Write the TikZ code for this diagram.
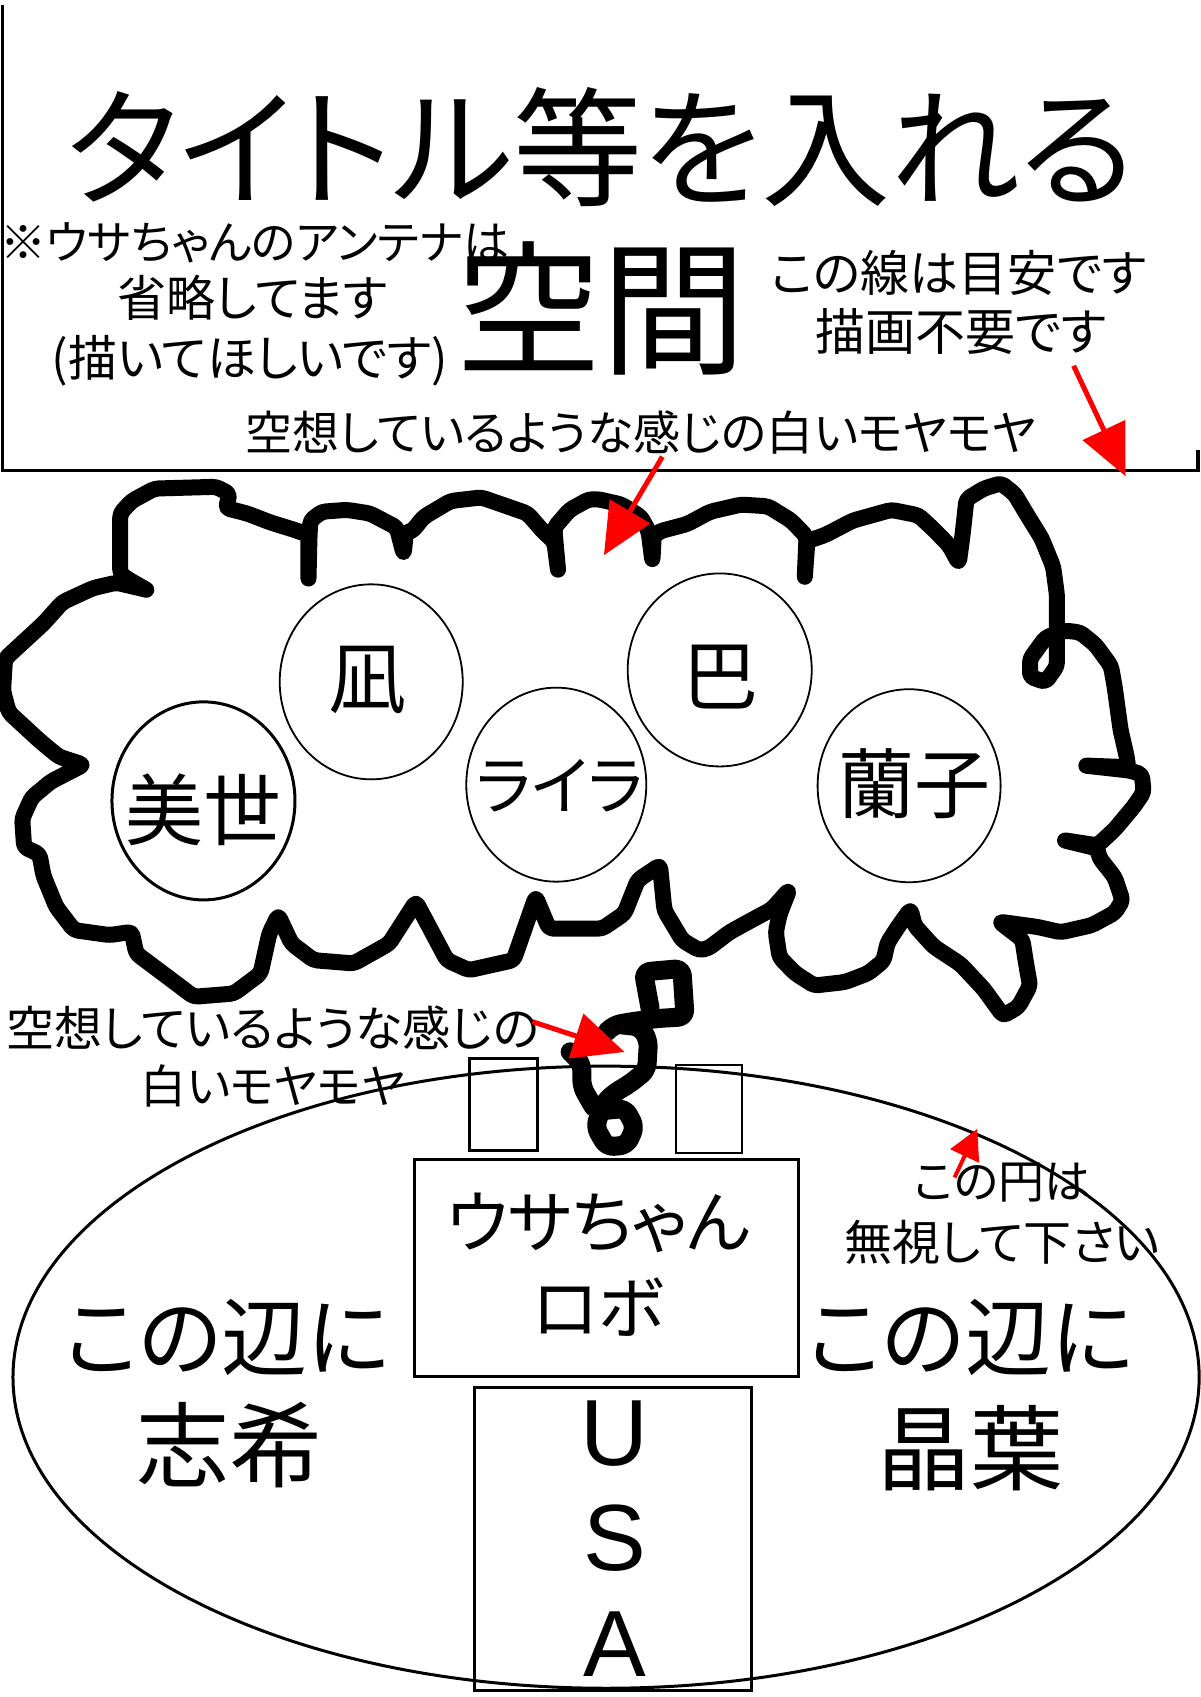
\documentclass[tikz,border=0pt]{standalone}
\usepackage{fontspec}
\setmainfont{Noto Sans CJK JP}[RawFeature=+palt]
\newfontfamily\usafont{Liberation Sans}
\usetikzlibrary{arrows.meta,shapes.geometric}
\newcommand{\myfs}[1]{\fontsize{#1}{#1}\selectfont}
\begin{document}
\begin{tikzpicture}[x=1.0821pt,y=-1.0821pt,
  txt/.style={inner sep=0pt, outer sep=0pt},
  frameline/.style={line width=3.2pt},
  nameoval/.style={draw, ellipse, line width=1.8pt, inner sep=0pt},
  boxl/.style={draw, rectangle, line width=3pt, inner sep=0pt},
  cloudline/.style={line width=16pt, line cap=round, line join=round, rounded corners=4pt},
  tailline/.style={line width=19pt, line cap=round, line join=round, rounded corners=7pt},
  redarrow/.style={draw=red, line width=5pt, -{Triangle[length=51pt,width=46pt]}},
  redarrowsmall/.style={draw=red, line width=4pt, -{Triangle[length=30pt,width=31pt]}}
]
\useasboundingbox (0,0) rectangle (1109,1568);
\fill[white] (0,0) rectangle (1109,1568);

% top frame
\draw[frameline] (2,5) -- (2,435) -- (1107,435) -- (1107,416);

% title area texts
\node[txt] (title) at (555,136) {\myfs{129pt}タイトル等を入れる};
\node[txt] (kukan) at (556,285) {\myfs{145pt}空間};
\node[txt, anchor=west] (note1) at (0,224) {\myfs{46pt}※ウサちゃんのアンテナは};
\node[txt] (note2) at (233,275) {\myfs{49pt}省略してます};
\node[txt] (note3) at (231,333) {\myfs{49pt}(描いてほしいです)};
\node[txt] (line1) at (886,252) {\myfs{49pt}この線は目安です};
\node[txt] (line2) at (888,306) {\myfs{50pt}描画不要です};
\node[txt] (moya1) at (592,400) {\myfs{47pt}空想しているような感じの白いモヤモヤ};

% cloud
\draw[cloudline] (135.2,544.9) -- (118.2,535.1) -- (111.1,530.2) -- (111.1,474.4) -- (121.7,462.9) -- (143,451.4) -- (199.8,449.8) -- (212.2,456.4) -- (208.7,469.5) -- (228.2,474.4) -- (249.5,482.6) -- (270.8,489.2) -- (285,494.1) -- (285,536.7) -- (286,494) -- (286.8,481) -- (297.4,472.8) -- (320.5,471.1) -- (341.8,474.4) -- (366.7,487.5) -- (373,512.1) -- (375,492) -- (380.9,490.8) -- (391.5,477.7) -- (416.4,462.9) -- (444.8,459.6) -- (487.4,474.4) -- (501.6,490.8) -- (512.2,500.6) -- (515.8,528.5) -- (513,498) -- (512.2,487.5) -- (526.4,471.1) -- (544.2,461.3) -- (553,461.3) -- (574.4,466.2) -- (592.2,477.7) -- (599.3,490.8) -- (602.8,518.7) -- (604,495) -- (610,490.8) -- (634.9,484.2) -- (656.2,472.8) -- (684.7,466.2) -- (709.6,467.8) -- (731,481) -- (745.2,495.7) -- (743.5,535.1) -- (746,500) -- (763,494.1) -- (788,481) -- (823.6,471.1) -- (848.5,476.1) -- (862.7,489.2) -- (877,503.9) -- (885.9,520.3) -- (889.4,494.1) -- (893,461.3) -- (909,451.4) -- (925,446.5) -- (937.5,456.4) -- (948.2,474.4) -- (962.4,497.4) -- (973.1,523.6) -- (976.6,549.8) -- (976.6,582.6) -- (976.6,615.4) -- (966,630.2) -- (951.7,625.3) -- (951.7,608.9) -- (966,589.2) -- (983.8,582.6) -- (998,584.3) -- (1012.2,595.8) -- (1026.5,615.4) -- (1030,635.1) -- (1035.4,674.5) -- (1040.7,697.4) -- (1042.5,708.9) -- (1001.6,707.3) -- (1044,712) -- (1055,715.5) -- (1056.7,731.9) -- (1047.8,745) -- (1030,766.3) -- (1014,781.1) -- (982,776.2) -- (1014,784) -- (1015.8,792.6) -- (1030,810.6) -- (1037.2,831.9) -- (1030,843.4) -- (1008.7,854.9) -- (980.2,861.4) -- (958.8,856.5) -- (923.2,851.6) -- (944.6,868) -- (948.2,891) -- (951.7,910.6) -- (941,930.3) -- (926.8,938.5) -- (909,913.9) -- (887.6,891) -- (862.7,874.6) -- (844.9,854.9) -- (841.4,840.1) -- (830.7,854.9) -- (820,871.3) -- (816.4,887.7) -- (802.2,899.2) -- (780.8,907.4) -- (752.4,910.6) -- (734.6,899.2) -- (720.3,884.4) -- (716.8,861.4) -- (720.3,845) -- (729.2,822.1) -- (713.2,840.1) -- (691.8,851.6) -- (674,861.4) -- (654.5,876.2) -- (646,878) -- (630.4,868.7) -- (613.9,841) -- (609.8,799.4) -- (589.3,813.2) -- (577,844) -- (556.5,858) -- (507.3,858) -- (495,828.7) -- (474.5,887.2) -- (433.4,896.4) -- (413,887.2) -- (396.6,856.4) -- (384.3,833.3) -- (359.6,871.8) -- (326.8,890.2) -- (289.9,887.2) -- (269.4,871.8) -- (257.1,845.6) -- (248.9,862.5) -- (240.7,899.5) -- (216,918) -- (179.2,921) -- (158.7,905.6) -- (125.9,881) -- (121.7,861) -- (101.2,864) -- (68.4,859.4) -- (52,838) -- (40.1,809) -- (36.5,789.3) -- (22.3,782.7) -- (20.5,756.5) -- (29.4,736.8) -- (47.2,722) -- (77.3,706.6) -- (54.3,699.1) -- (36.5,684.3) -- (22.3,671.2) -- (8.1,658.1) -- (2.8,638.4) -- (4.6,608.9) -- (15.2,599) -- (40.1,576.1) -- (57.8,556.4) -- (86.2,543.3) -- (107.5,538.4) -- (135.2,544.9);

% name ovals
\node[nameoval, line width=3pt, minimum width=183pt, minimum height=198pt] (omiyo) at (188,740) {};
\node[nameoval, minimum width=183pt, minimum height=195pt] (onagi) at (343,630) {};
\node[nameoval, minimum width=180pt, minimum height=194pt] (oraira) at (514,725) {};
\node[nameoval, minimum width=184pt, minimum height=193pt] (otomoe) at (665,619) {};
\node[nameoval, minimum width=183pt, minimum height=193pt] (oranko) at (840,726) {};
\node[txt] (tmiyo) at (188,748) {\myfs{78pt}美世};
\node[txt] (tnagi) at (340,628) {\myfs{78pt}凪};
\node[txt] (traira) at (517,726) {\myfs{64pt}ライラ};
\node[txt] (ttomoe) at (666,626) {\myfs{76pt}巴};
\node[txt] (tranko) at (845,724) {\myfs{76pt}蘭子};

% big ellipse
\draw[line width=3pt] (560,1272.5) ellipse [x radius=593pt, y radius=311pt];

% boxes
\node[boxl, minimum width=68.2pt, minimum height=92pt] (antl) at (465.5,1020.5) {};
\node[boxl, line width=2pt, minimum width=66pt, minimum height=87.7pt] (antr) at (655.5,1024.5) {};
\node[boxl, minimum width=384.1pt, minimum height=217.5pt] (robot) at (560.5,1171.5) {};
\node[boxl, minimum width=277pt, minimum height=303pt] (usa) at (566,1422) {};
\node[txt] (robot1) at (553,1130) {\myfs{68pt}ウサちゃん};
\node[txt] (robot2) at (553,1208) {\myfs{68pt}ロボ};
\node[txt] (usaU) at (568,1325) {\usafont\myfs{94pt}U};
\node[txt] (usaS) at (568,1421) {\usafont\myfs{94pt}S};
\node[txt] (usaA) at (568,1519) {\usafont\myfs{94pt}A};

% thought tail
\draw[tailline] (600.7,931.8) -- (594.5,898) -- (630,894.9) -- (633,939.5) -- (606.9,941.1) -- (582.2,944.2) -- (566.8,947.2) -- (560.7,953.4);
\draw[tailline] (575,947) -- (591.5,948.8) -- (599.2,961.1) -- (597.6,988.8) -- (582.2,1001.1) -- (566.8,1010.4) -- (557.6,1019.6) -- (549.9,1041.2) -- (560.7,1059.7) -- (579.1,1058.1) -- (586.8,1041.2) -- (577.6,1024.2) -- (560.7,1025.8);
\draw[tailline] (526.8,971.9) -- (537.6,982.7) -- (537.6,1004.2) -- (548.3,1022.7);

% lower texts
\node[txt] (moya2a) at (252,950) {\myfs{48pt}空想しているような感じの};
\node[txt] (moya2b) at (252,1003) {\myfs{46pt}白いモヤモヤ};
\node[txt] (ign1) at (926,1093) {\myfs{46pt}この円は};
\node[txt] (ign2) at (926,1148) {\myfs{48pt}無視して下さい};
\node[txt] (shiki1) at (210,1236) {\myfs{86pt}この辺に};
\node[txt] (shiki2) at (212,1335) {\myfs{93pt}志希};
\node[txt] (akiha1) at (897,1236) {\myfs{86pt}この辺に};
\node[txt] (akiha2) at (897,1338) {\myfs{93pt}晶葉};

% red arrows
\coordinate (a1s) at (992,338);
\coordinate (a1e) at (1040,440);
\coordinate (a2s) at (612,422);
\coordinate (a2e) at (558,513);
\coordinate (a3s) at (492,944);
\coordinate (a3e) at (577,972);
\coordinate (a4s) at (882,1088);
\coordinate (a4e) at (903,1043);
\draw[redarrow] (a1s) -- (a1e);
\draw[redarrow] (a2s) -- (a2e);
\draw[redarrow] (a3s) -- (a3e);
\draw[redarrowsmall] (a4s) -- (a4e);
\end{tikzpicture}
\end{document}
